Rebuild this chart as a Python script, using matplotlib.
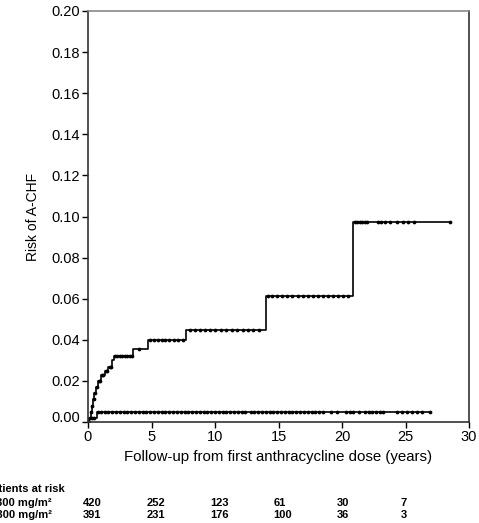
import numpy as np
import matplotlib
matplotlib.use("Agg")
import matplotlib.pyplot as plt
from matplotlib.transforms import ScaledTranslation, blended_transform_factory

plt.rcParams.update({
    "font.family": ["Liberation Sans", "DejaVu Sans"],
    "font.size": 9,
    "axes.linewidth": 1.2,
})

# step curves (event time, cumulative risk after the step)
hi_t = [0, 0.1, 0.2, 0.3, 0.4, 0.5, 0.65, 0.8, 1.0, 1.3, 1.6, 1.9, 2.05, 3.55, 4.7, 7.7, 14.05, 20.9]
hi_r = [0, 0.002, 0.005, 0.008, 0.011, 0.014, 0.017, 0.020, 0.023, 0.025, 0.027, 0.030, 0.032,
        0.0355, 0.040, 0.0448, 0.0613, 0.0975]
hi_end = 28.5
hi_cens = [0.05, 0.15, 0.25, 0.35, 0.45, 0.55, 0.7, 0.85, 0.95, 1.1, 1.2, 1.4, 1.5, 1.7, 1.8,
           2.1, 2.3, 2.5, 2.7, 2.9, 3.1, 3.3, 3.45, 4.0, 4.9, 5.2, 5.5, 5.8, 6.1, 6.4, 6.8, 7.1, 7.5,
           8.0, 8.4, 8.8, 9.2, 9.6, 10.0, 10.5, 10.9, 11.3, 11.7, 12.2, 12.6, 13.0, 13.5,
           14.2, 14.5, 14.9, 15.3, 15.7, 16.1, 16.5, 16.9, 17.3, 17.7, 18.1, 18.5, 18.9, 19.3,
           19.7, 20.1, 20.5, 21.0, 21.2, 21.4, 21.6, 21.8, 22.0, 22.8, 23.1, 23.4, 23.8, 24.3,
           24.8, 25.2, 25.7, 28.5]

lo_t = [0, 0.1, 0.7]
lo_r = [0, 0.002, 0.0048]
lo_end = 26.9
lo_cens = [0.3, 0.5, 0.8, 1.0, 1.3, 1.6, 1.9, 2.2, 2.5, 2.8, 3.1, 3.4, 3.7, 4.0, 4.3, 4.6, 4.9,
           5.2, 5.5, 5.8, 6.1, 6.4, 6.7, 7.0, 7.3, 7.6, 7.9, 8.2, 8.5, 8.8, 9.1, 9.4, 9.7, 10.0,
           10.3, 10.6, 10.9, 11.2, 11.5, 11.8, 12.1, 12.4, 12.8, 13.1, 13.4, 13.7, 14.0, 14.3,
           14.6, 14.9, 15.2, 15.5, 15.8, 16.1, 16.4, 16.7, 17.0, 17.3, 17.6, 17.9, 18.2, 18.5,
           19.1, 19.6, 20.3, 20.6, 20.9, 21.3, 21.8, 22.1, 22.4, 22.7, 23.0, 23.2, 24.3, 24.7,
           25.1, 25.5, 25.9, 26.3, 26.9]

# numbers at risk table
risk_times = [0, 5, 10, 15, 20, 25]
row_labels = ["\u2264300 mg/m\u00b2", ">300 mg/m\u00b2"]
at_risk_1 = [420, 252, 123, 61, 30, 7]
at_risk_2 = [391, 231, 176, 100, 36, 3]


def step_xy(t, r, end):
    return list(t) + [end], list(r) + [r[-1]]


def value_at(t, r, x):
    idx = np.searchsorted(t, x, side="right") - 1
    return np.asarray(r)[idx]


fig = plt.figure(figsize=(4.79, 5.23), dpi=100)
ax = fig.add_axes([88 / 479, 101 / 523, 381 / 479, 411 / 523])

for t, r, end, cens in [(hi_t, hi_r, hi_end, hi_cens), (lo_t, lo_r, lo_end, lo_cens)]:
    xs, ys = step_xy(t, r, end)
    ax.step(xs, ys, where="post", color="black", linewidth=1.2)
    ax.plot(cens, value_at(t, r, cens), linestyle="none", marker="o",
            markersize=2.7, color="black", markeredgewidth=0)

ax.set_xlim(0, 30)
ax.set_ylim(0, 0.20)
ax.set_xticks([0, 5, 10, 15, 20, 25, 30])
ax.set_yticks(np.arange(0, 0.201, 0.02))
ax.yaxis.set_major_formatter(matplotlib.ticker.FormatStrFormatter("%.2f"))
ax.tick_params(direction="out", length=4, width=1.0, labelsize=10.5, pad=2)
ax.set_xlabel("Follow-up from first anthracycline dose (years)", fontsize=10.8, labelpad=4)
ax.set_ylabel("Risk of A-CHF", fontsize=10, labelpad=8)
for sp in ax.spines.values():
    sp.set_color("#333333")
ax.spines["top"].set_color("#888888")

# nudge the 0.00 label up a bit, as in the original
lab0 = ax.get_yticklabels()[0]
lab0.set_transform(lab0.get_transform() + ScaledTranslation(0, 6 / 100, fig.dpi_scale_trans))

# patients at risk
trans = blended_transform_factory(ax.transData, fig.transFigure)
fig.text(65 / 479, 1 - 489 / 523, "Patients at risk", ha="right", va="center",
         fontsize=8, fontweight="bold")
for j, (lab, vals) in enumerate([(row_labels[0], at_risk_1), (row_labels[1], at_risk_2)]):
    y = 1 - (503 + 12 * j) / 523
    fig.text(52 / 479, y, lab, ha="right", va="center", fontsize=8, fontweight="bold")
    for t, v in zip(risk_times, vals):
        ax.text(t - 0.4, y, str(v), transform=trans, ha="left", va="center",
                fontsize=8, fontweight="bold", clip_on=False)

fig.savefig("out.png", dpi=100)
